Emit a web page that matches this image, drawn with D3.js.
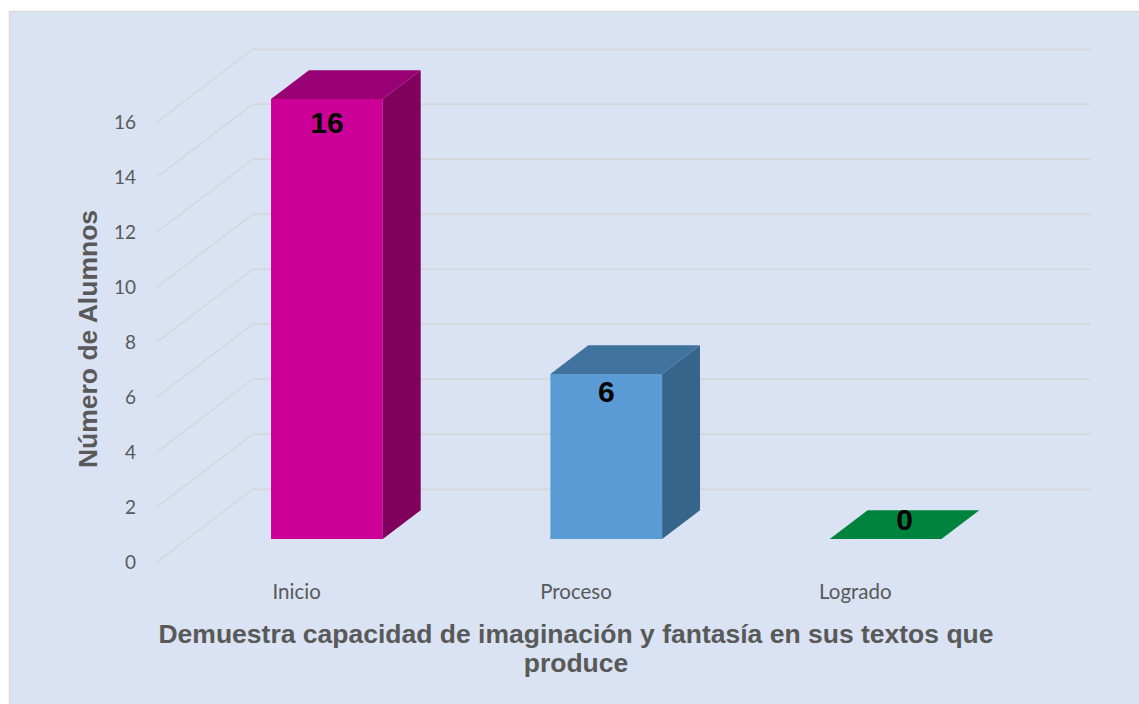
<!DOCTYPE html>
<html>
<head>
<meta charset="utf-8">
<script src="https://cdn.jsdelivr.net/npm/d3@7"></script>
<style>
  body { margin: 0; background: #ffffff; }
  svg { display: block; }
</style>
</head>
<body>
<div class="chart"></div>
<script>
// data
var categories = ["Inicio", "Proceso", "Logrado"]
var values = [16, 6, 0]
var yTicks = [0, 2, 4, 6, 8, 10, 12, 14, 16]
var frontColors = ["#cc0099", "#5b9bd5", "#00843d"]
var topColors = ["#990073", "#41739f", "#00843d"]
var sideColors = ["#80005c", "#37648b", "#006b31"]

var W = 1139, H = 704
var depthX = 96, depthY = -73     // full floor depth in screen px
var barD0 = 0.315, barD1 = 0.71   // bar sits between these depth fractions

var svg = d3.select(".chart").append("svg")
    .attr("width", W).attr("height", H)

// chart frame
svg.append("rect")
    .attr("x", 9.5).attr("y", 11.5)
    .attr("width", W).attr("height", H)
    .attr("fill", "#dae3f3")
    .attr("stroke", "#d9d9d9").attr("stroke-width", 1.5)

var x = d3.scaleBand().domain(categories).range([157, 995])
    .paddingInner(0.6).paddingOuter(0.3)
var y = d3.scaleLinear().domain([0, 16]).range([562, 122])

// project a point at depth fraction d
function P(px, py, d) { return [px + d * depthX, py + d * depthY] }

// gridlines: floor diagonal + back wall horizontal
var grid = svg.append("g")
yTicks.forEach(function(v) {
    var a = P(157, y(v), 0), b = P(157, y(v), 1), c = P(995, y(v), 1)
    grid.append("path")
        .attr("d", "M" + a + "L" + b + "L" + c)
        .attr("fill", "none")
        .attr("stroke", "#d6d7da")
        .attr("stroke-width", 1.75)
})

// 3d bars
var bars = svg.append("g")
categories.forEach(function(cat, i) {
    var x0 = x(cat), x1 = x(cat) + x.bandwidth()
    var yt = y(values[i]), yb = y(0)
    var poly = function(pts) { return "M" + pts.join("L") + "Z" }
    if (values[i] > 0) {
        // front face
        bars.append("path").attr("fill", frontColors[i])
            .attr("d", poly([P(x0, yb, barD0), P(x1, yb, barD0), P(x1, yt, barD0), P(x0, yt, barD0)]))
        // side face
        bars.append("path").attr("fill", sideColors[i])
            .attr("d", poly([P(x1, yb, barD0), P(x1, yb, barD1), P(x1, yt, barD1), P(x1, yt, barD0)]))
    }
    // top face
    bars.append("path").attr("fill", topColors[i])
        .attr("d", poly([P(x0, yt, barD0), P(x1, yt, barD0), P(x1, yt, barD1), P(x0, yt, barD1)]))
})

// value labels
categories.forEach(function(cat, i) {
    var v = values[i]
    var d = v > 0 ? barD0 : (barD0 + barD1) / 2
    var p = P(x(cat) + x.bandwidth() / 2, y(v), d)
    var dy = v > 0 ? 14 + v * 0.6 : -5
    svg.append("text")
        .attr("x", p[0]).attr("y", p[1] + dy)
        .attr("dy", "0.35em")
        .attr("text-anchor", "middle")
        .attr("font-family", "Liberation Sans, Arial, sans-serif")
        .attr("font-weight", "bold")
        .attr("font-size", 30)
        .attr("fill", "#000")
        .text(v)
})

// y axis labels
var yAxis = svg.append("g")
    .attr("transform", "translate(157,0)")
    .call(d3.axisLeft(y).tickValues(yTicks).tickSize(0).tickPadding(21))
yAxis.select(".domain").remove()
yAxis.selectAll("text")
    .attr("font-family", "Lato, Open Sans, sans-serif")
    .attr("font-size", 19)
    .attr("fill", "#595959")

// category labels
var xAxis = svg.append("g")
    .attr("transform", "translate(0,562)")
    .call(d3.axisBottom(x).tickSize(0).tickPadding(22))
xAxis.select(".domain").remove()
xAxis.selectAll("text")
    .attr("font-family", "Lato, Open Sans, sans-serif")
    .attr("font-size", 20.5)
    .attr("fill", "#595959")

// axis titles
svg.append("text")
    .attr("transform", "translate(97,339) rotate(-90)")
    .attr("text-anchor", "middle")
    .attr("font-family", "Liberation Sans, Arial, sans-serif")
    .attr("font-weight", "bold")
    .attr("font-size", 26.5)
    .attr("fill", "#595959")
    .text("Número de Alumnos")

var title = svg.append("text")
    .attr("text-anchor", "middle")
    .attr("font-family", "Liberation Sans, Arial, sans-serif")
    .attr("font-weight", "bold")
    .attr("font-size", 26.5)
    .attr("fill", "#595959")
title.append("tspan").attr("x", 576).attr("y", 643)
    .text("Demuestra capacidad de imaginación y fantasía en sus textos que")
title.append("tspan").attr("x", 576).attr("y", 672)
    .text("produce")
</script>
</body>
</html>
